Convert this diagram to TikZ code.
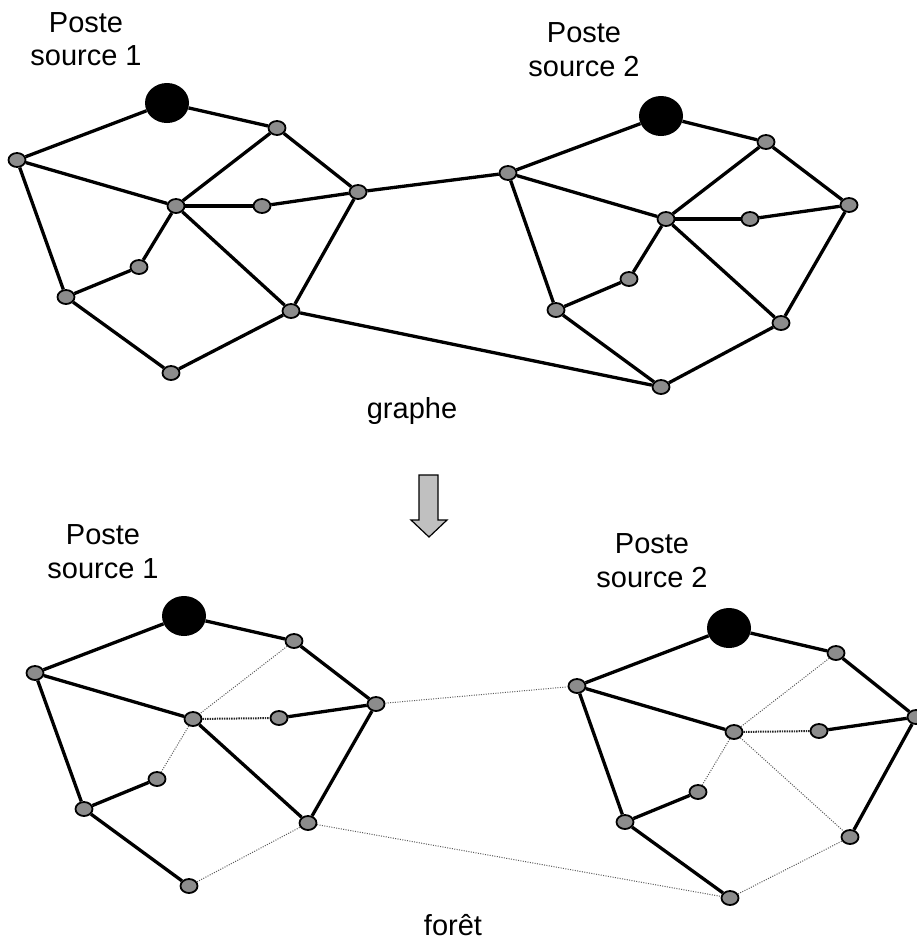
\documentclass[tikz,border=0pt]{standalone}
\usepackage{fontspec}
\setmainfont{Liberation Sans}
\usetikzlibrary{shapes.geometric}
\definecolor{nodegray}{RGB}{140,140,140}
\definecolor{arrowgray}{RGB}{192,192,192}
\begin{document}
\begin{tikzpicture}[x=1pt,y=-1pt,
  sm/.style={ellipse, draw=black, line width=1.8pt, fill=nodegray, minimum width=17pt, minimum height=14pt, inner sep=0pt},
  src/.style={ellipse, fill=black, minimum width=44pt, minimum height=40pt, inner sep=0pt},
  ed/.style={line width=3.3pt},
  dots/.style={line width=1pt, dash pattern=on 1pt off 1.4pt, black!65},
  thickdots/.style={line width=2pt, dash pattern=on 1.4pt off 1pt, black!85},
  lbl/.style={font=\fontsize{29}{33.5}\selectfont, align=center, inner sep=0pt},
  captext/.style={font=\fontsize{29}{33.5}\selectfont, inner sep=0pt, anchor=base}]
\useasboundingbox (0,0) rectangle (917,940);
% ---------- top: graphe ----------
\node[src] (S1) at (167,103) {};
\node[sm] (A1) at (17,160) {};
\node[sm] (B1) at (277,128) {};
\node[sm] (C1) at (176,206) {};
\node[sm] (D1) at (262,206) {};
\node[sm] (E1) at (358,192) {};
\node[sm] (F1) at (139,267) {};
\node[sm] (G1) at (66,297) {};
\node[sm] (H1) at (291,311) {};
\node[sm] (I1) at (171,373) {};
\node[src] (S2) at (661,116) {};
\node[sm] (A2) at (508,173) {};
\node[sm] (B2) at (766,142) {};
\node[sm] (C2) at (666,219) {};
\node[sm] (D2) at (750,219) {};
\node[sm] (E2) at (849,205) {};
\node[sm] (F2) at (629,279) {};
\node[sm] (G2) at (556,310) {};
\node[sm] (H2) at (781,323) {};
\node[sm] (I2) at (661,387) {};
\foreach \n in {1,2}{
  \draw[ed] (S\n) -- (A\n);
  \draw[ed] (S\n) -- (B\n);
  \draw[ed] (A\n) -- (C\n);
  \draw[ed] (A\n) -- (G\n);
  \draw[ed] (B\n) -- (C\n);
  \draw[ed] (B\n) -- (E\n);
  \draw[ed] (C\n) -- (D\n);
  \draw[ed] (D\n) -- (E\n);
  \draw[ed] (C\n) -- (F\n);
  \draw[ed] (C\n) -- (H\n);
  \draw[ed] (F\n) -- (G\n);
  \draw[ed] (G\n) -- (I\n);
  \draw[ed] (I\n) -- (H\n);
  \draw[ed] (H\n) -- (E\n);
}
\draw[ed] (E1) -- (A2);
\draw[ed] (H1) -- (I2);
\node[lbl] (L1) at (86,39) {Poste\\source 1};
\node[lbl] (L2) at (584,49.5) {Poste\\source 2};
\node[captext] (T1) at (412,418) {graphe};
% ---------- arrow ----------
\draw[line width=1.2pt, fill=arrowgray, line join=miter]
  (419,475) -- (438,475) -- (438,520) -- (447,520) -- (429,537) -- (411,520) -- (419,520) -- cycle;
% ---------- bottom: foret ----------
\node[src] (s1) at (184,616) {};
\node[sm] (a1) at (35,673) {};
\node[sm] (b1) at (294,641) {};
\node[sm] (c1) at (193,719) {};
\node[sm] (d1) at (279,718) {};
\node[sm] (e1) at (376,704) {};
\node[sm] (f1) at (157,779) {};
\node[sm] (g1) at (84,809) {};
\node[sm] (h1) at (308,823) {};
\node[sm] (i1) at (189,886) {};
\node[src] (s2) at (729,628) {};
\node[sm] (a2) at (577,686) {};
\node[sm] (b2) at (836,653) {};
\node[sm] (c2) at (734,732) {};
\node[sm] (d2) at (819,731) {};
\node[sm] (e2) at (916,717) {};
\node[sm] (f2) at (698,792) {};
\node[sm] (g2) at (625,822) {};
\node[sm] (h2) at (850,837) {};
\node[sm] (i2) at (730,898) {};
\foreach \n in {1,2}{
  \draw[ed] (s\n) -- (a\n);
  \draw[ed] (s\n) -- (b\n);
  \draw[ed] (a\n) -- (c\n);
  \draw[ed] (a\n) -- (g\n);
  \draw[ed] (b\n) -- (e\n);
  \draw[ed] (d\n) -- (e\n);
  \draw[ed] (h\n) -- (e\n);
  \draw[ed] (f\n) -- (g\n);
  \draw[ed] (g\n) -- (i\n);
  \draw[dots] (b\n) -- (c\n);
  \draw[thickdots] (c\n) -- (d\n);
  \draw[dots] (c\n) -- (f\n);
  \draw[dots] (i\n) -- (h\n);
}
\draw[ed] (c1) -- (h1);
\draw[dots] (c2) -- (h2);
\draw[dots] (e1) -- (a2);
\draw[dots] (h1) -- (i2);
\node[lbl] (l1) at (103,551.5) {Poste\\source 1};
\node[lbl] (l2) at (652,560.5) {Poste\\source 2};
\node[captext] (t2) at (453,935) {forêt};
\end{tikzpicture}
\end{document}
